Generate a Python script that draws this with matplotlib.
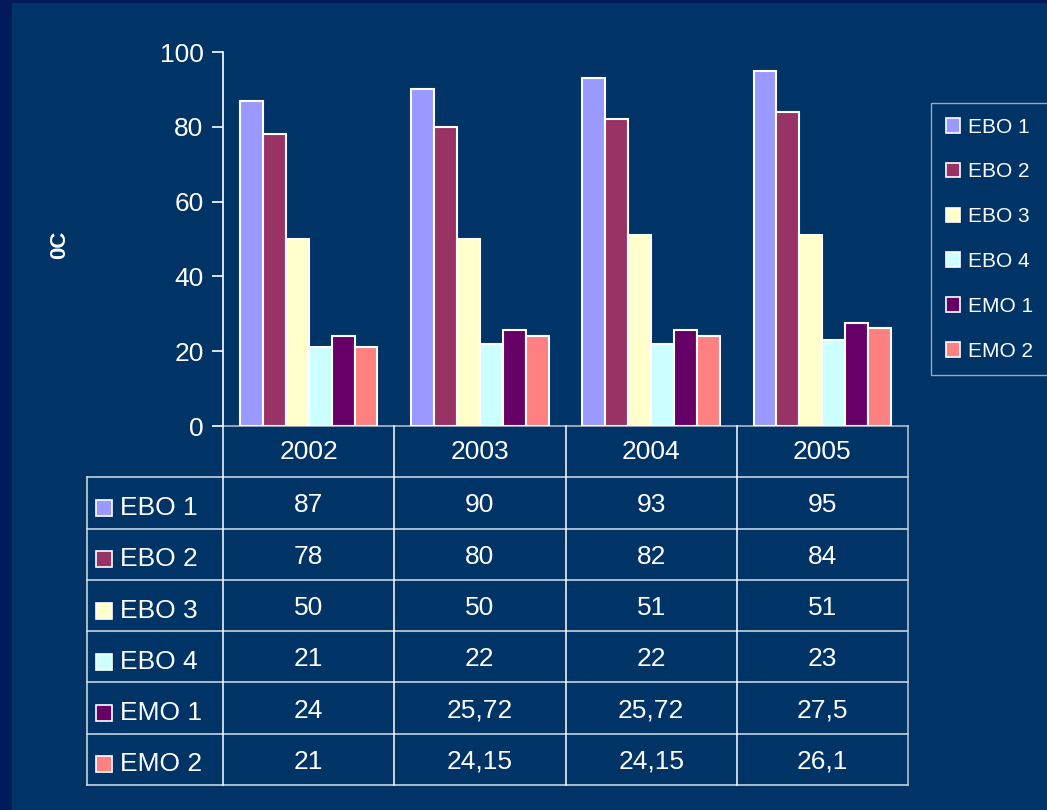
import matplotlib
matplotlib.use("Agg")
import matplotlib.pyplot as plt
from matplotlib.patches import Rectangle, Patch
import numpy as np

plt.rcParams['font.family'] = ['Liberation Sans', 'DejaVu Sans']

# data
years = ['2002', '2003', '2004', '2005']
series_names = ['EBO 1', 'EBO 2', 'EBO 3', 'EBO 4', 'EMO 1', 'EMO 2']
ebo1 = [87, 90, 93, 95]
ebo2 = [78, 80, 82, 84]
ebo3 = [50, 50, 51, 51]
ebo4 = [21, 22, 22, 23]
emo1 = [24, 25.72, 25.72, 27.5]
emo2 = [21, 24.15, 24.15, 26.1]
series = [ebo1, ebo2, ebo3, ebo4, emo1, emo2]
colors = ['#9999FF', '#993366', '#FFFFCC', '#CCFFFF', '#660066', '#FF8080']

bg = '#003366'
W, H = 1047, 810
fig = plt.figure(figsize=(W / 100, H / 100), dpi=100, facecolor=bg)

# darker strips at left and top edges
fig.patches.append(Rectangle((0, 0), 12 / W, 1, transform=fig.transFigure,
                             facecolor='#001a5a', edgecolor='none', zorder=0))
fig.patches.append(Rectangle((0, 1 - 3 / H), 1, 3 / H, transform=fig.transFigure,
                             facecolor='#001a5a', edgecolor='none', zorder=0))

# main bar axes
ax = fig.add_axes([223 / W, (H - 426) / H, (908 - 223) / W, (426 - 52) / H])
ax.set_facecolor(bg)
x = np.arange(len(years))
bw = 0.134
for i, (vals, c) in enumerate(zip(series, colors)):
    ax.bar(x + (i - 2.5) * bw, vals, width=bw, color=c, edgecolor='white',
           linewidth=1.5, zorder=3)

ax.set_xlim(-0.5, 3.5)
ax.set_ylim(0, 100)
ax.set_yticks([0, 20, 40, 60, 80, 100])
ax.tick_params(axis='y', colors='white', labelsize=19, length=8, width=1.2, pad=6)
ax.set_xticks([])
for s in ['top', 'right']:
    ax.spines[s].set_visible(False)
ax.spines['left'].set_color('white')
ax.spines['left'].set_linewidth(1.2)
ax.spines['bottom'].set_color('#b0b8c8')
ax.spines['bottom'].set_linewidth(1.2)

fig.text(60 / W, 1 - 245 / H, '0C', rotation=90, color='white', fontsize=16,
         fontweight='bold', ha='center', va='center')

# data table below the chart
tab = fig.add_axes([87 / W, (H - 785) / H, (908 - 87) / W, (785 - 426) / H])
tab.set_facecolor('none')
tab.axis('off')
x_left = -0.5 - (223 - 87) / ((908 - 223) / 4)
tab.set_xlim(x_left, 3.5)
tab.set_ylim(7, 0)

line_c = '#d8dee8'
for r in range(1, 8):
    tab.plot([x_left, 3.5], [r, r], color=line_c, lw=1.1, clip_on=False)
tab.plot([x_left, x_left], [1, 7], color=line_c, lw=1.1, clip_on=False)
for b in [-0.5, 0.5, 1.5, 2.5]:
    tab.plot([b, b], [0, 7], color='white', lw=1.1, clip_on=False)
tab.plot([3.5, 3.5], [0, 7], color='#c0c8d4', lw=1.1, clip_on=False)

for j, yr in enumerate(years):
    tab.text(j, 0.5, yr, color='white', fontsize=19, ha='center', va='center')

for i, (name, vals, c) in enumerate(zip(series_names, series, colors)):
    yy = i + 1.6
    tab.plot([x_left + 0.1], [yy], marker='s', markersize=12, color=c,
             markeredgecolor='white', markeredgewidth=1.2, clip_on=False)
    tab.text(x_left + 0.19, yy, name, color='white', fontsize=19,
             ha='left', va='center')
    for j, v in enumerate(vals):
        tab.text(j, yy - 0.05, ('%g' % v).replace('.', ','), color='white',
                 fontsize=19, ha='center', va='center')

# legend
handles = [Patch(facecolor=c, edgecolor='white', linewidth=1.2) for c in colors]
leg = fig.legend(handles, series_names, loc='upper left',
                 bbox_to_anchor=(931 / W, 1 - 103 / H), borderaxespad=0,
                 fontsize=15, labelcolor='white', frameon=True, fancybox=False,
                 handlelength=0.7, handleheight=0.7, handletextpad=0.4,
                 labelspacing=1.24, borderpad=0.7)
leg.get_frame().set_facecolor(bg)
leg.get_frame().set_edgecolor('#c0c8d4')
leg.get_frame().set_linewidth(1.0)

fig.savefig('out.png', dpi=100, facecolor=bg)
